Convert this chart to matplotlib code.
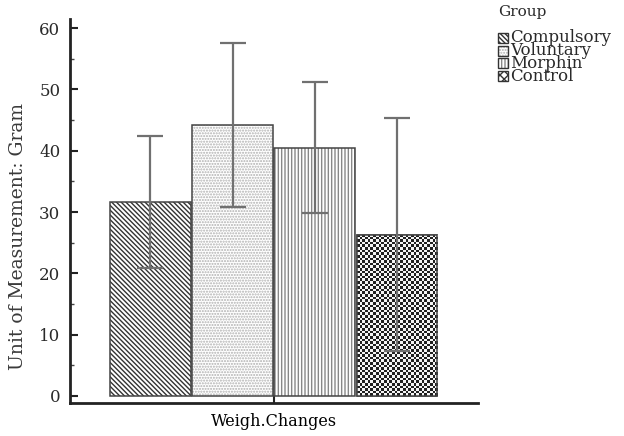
import numpy as np
import matplotlib
matplotlib.use("Agg")
import matplotlib.pyplot as plt
from matplotlib.patches import Rectangle

plt.rcParams['font.family'] = ['DejaVu Serif']
plt.rcParams['hatch.linewidth'] = 1.0
plt.rcParams['text.color'] = '#2a2a2a'

groups = ["Compulsory", "Voluntary", "Morphin", "Control"]
means = [31.6, 44.2, 40.5, 26.3]
errors = [10.8, 13.4, 10.7, 19.0]
category = "Weigh.Changes"
y_ticks = [0, 10, 20, 30, 40, 50, 60]

fig = plt.figure(figsize=(6.24, 4.36), dpi=100)
ax = fig.add_axes([70/624, 1 - 403/436, 408/624, 384/436])

x = np.arange(len(groups))
width = 0.98
hatches = ['\\\\\\\\\\\\\\', '......', '|||||', None]
hcolors = ['#333333', '#b0b0b0', '#888888', '#222222']
bars = ax.bar(x, means, width=width, color='white', edgecolor='#444444',
              linewidth=1.1, zorder=2)
for b, h, hc in zip(bars, hatches, hcolors):
    if h:
        b.set_hatch(h)
        b._hatch_color = matplotlib.colors.to_rgba(hc)

# checkerboard texture for the last bar
b = bars[3]
bx, by = b.get_x(), b.get_y()
bw, bh = b.get_width(), b.get_height()
n_x, n_y = 30, 62
ii, jj = np.meshgrid(np.arange(n_x), np.arange(n_y))
checker = ((ii + jj) % 2).astype(float)
im = ax.imshow(checker, cmap='gray', vmin=-0.15, vmax=1.05,
               extent=[bx, bx + bw, by, by + bh], aspect='auto',
               interpolation='nearest', zorder=2.5)
im.set_clip_path(b)
ax.bar(x[3], means[3], width=width, color='none', edgecolor='#444444',
       linewidth=1.1, zorder=3)

ax.errorbar(x, means, yerr=errors, fmt='none', ecolor='#707070',
            elinewidth=1.6, capsize=9.5, capthick=1.6, zorder=4)

ax.set_xlim(-0.98, 3.99)
ax.set_ylim(-1.15, 61.5)
ax.set_yticks(y_ticks)
ax.set_yticks(np.arange(5, 60, 10), minor=True)
ax.set_xticks([1.5])
ax.set_xticklabels([""])
ax.tick_params(axis='both', which='major', direction='in', length=6,
               width=1.5, color='#222222', labelsize=12, pad=7,
               labelcolor='#2a2a2a')
ax.tick_params(axis='y', which='minor', direction='in', length=3,
               width=1, color='#444444')
for s in ['top', 'right']:
    ax.spines[s].set_visible(False)
for s in ['left', 'bottom']:
    ax.spines[s].set_linewidth(2)
    ax.spines[s].set_color('#222222')

ax.set_ylabel("Unit of Measurement: Gram", fontsize=13.5, color='#3a3a3a')
ax.yaxis.set_label_coords(-43/408, (403 - 236)/384)
ax.set_xlabel(category, fontsize=11.5, va='center')
ax.xaxis.set_label_coords(0.5, -(421 - 403)/384)

# legend: swatches plus one stacked block of labels
fig.text(498/624, 1 - 12/436, "Group", fontsize=11, va='center', ha='left')
leg_y = [38, 51, 63.5, 76]
for h, hc, yy in zip(hatches, hcolors, leg_y):
    rx, ry = 498/624, 1 - (yy + 5)/436
    r = Rectangle((rx, ry), 10/624, 10/436, transform=fig.transFigure,
                  facecolor='white', edgecolor='#333333', linewidth=1,
                  hatch=h if h else 'xxxx')
    if h:
        r._hatch_color = matplotlib.colors.to_rgba(hc)
    fig.patches.append(r)
fig.text(510/624, 1 - 29/436, "\n".join(groups), fontsize=12, va='top',
         ha='left', linespacing=0.68)

fig.savefig("out.png", dpi=100)
